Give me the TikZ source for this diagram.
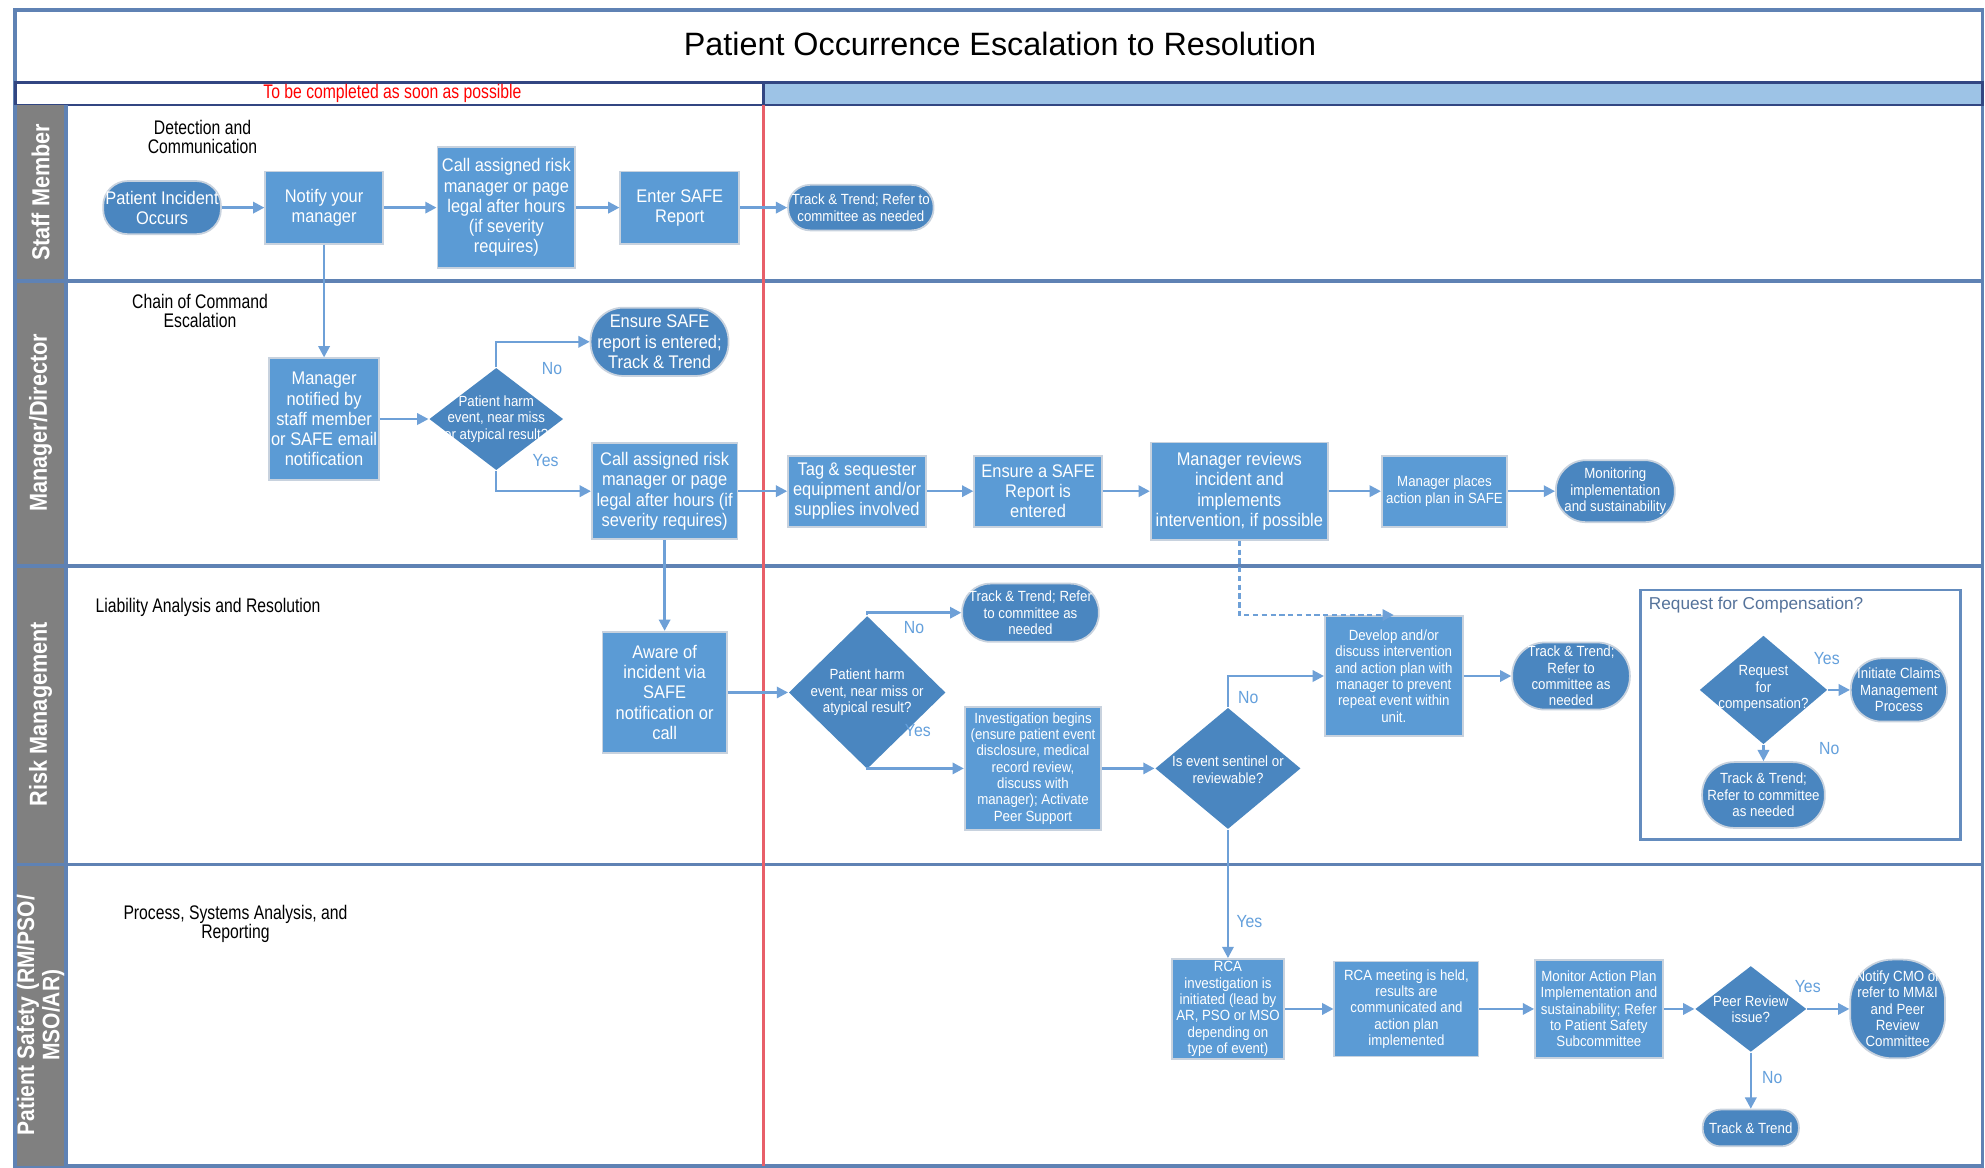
\documentclass[tikz,border=0pt]{standalone}
\usepackage{fontspec}
\setmainfont{Liberation Sans}
\newfontfamily\boxfont{Liberation Sans}[FakeStretch=0.9]
\newfontfamily\narrowfont{Liberation Sans}[FakeStretch=0.8]
\newfontfamily\lanefont{Liberation Sans}[FakeStretch=0.88]
\usetikzlibrary{shapes.geometric,shapes.misc,arrows.meta,calc}
\newlength{\spx}\setlength{\spx}{0.3602pt}
\newcommand\boxbig{\boxfont\fontsize{5.2}{5.75}\selectfont}
\newcommand\boxsmall{\boxfont\fontsize{4.2}{4.65}\selectfont}
\definecolor{rectfill}{RGB}{91,155,213}
\definecolor{darkfill}{RGB}{74,134,192}
\definecolor{rectline}{RGB}{200,210,222}
\definecolor{linecol}{RGB}{110,160,215}
\definecolor{ynblue}{RGB}{100,160,220}
\definecolor{lanecol}{RGB}{95,130,180}
\definecolor{navy}{RGB}{50,70,130}
\definecolor{hdrblue}{RGB}{157,195,230}
\definecolor{lanegray}{RGB}{128,128,128}
\definecolor{redline}{RGB}{232,95,105}
\definecolor{compline}{RGB}{100,140,190}
\definecolor{comptext}{RGB}{85,115,155}
\tikzset{
  rbox/.style={rectangle, draw=rectline, line width=0.5pt, fill=rectfill, text=white, align=center, inner sep=0.5pt, font=\boxbig},
  stad/.style={rectangle, rounded corners=#1, draw=rectline, line width=0.5pt, fill=darkfill, text=white, align=center, inner sep=0.5pt, font=\boxbig},
  dia/.style={diamond, fill=darkfill, draw=none, inner sep=0pt},
  dtext/.style={text=white, align=center, inner sep=0pt, font=\boxsmall},
  conn/.style={draw=linecol, line width=0.7pt, -{Triangle[length=3.2pt,width=3.2pt]}},
  yn/.style={text=ynblue, inner sep=0pt, font=\boxfont\fontsize{5}{5}\selectfont},
  sect/.style={text=black, align=center, inner sep=0pt, font=\narrowfont\fontsize{5.6}{5.4}\selectfont},
  lanelabel/.style={rotate=90, text=white, align=center, inner sep=0pt, font=\lanefont\bfseries\fontsize{7}{7.2}\selectfont},
  laneline/.style={draw=lanecol, line width=1pt},
}
\begin{document}
\begin{tikzpicture}[x=0.01266cm, y=-0.01266cm]
\useasboundingbox (0,0) rectangle (1568,922);
% frame and header
\fill[white] (0,0) rectangle (1568,922);
\draw[laneline] (12,8) rectangle (1566,921);
\node[font=\fontsize{9.2}{11}\selectfont] (title) at (790,35) {Patient Occurrence Escalation to Resolution};
\draw[navy, line width=0.8pt, fill=white] (12,65) rectangle (603,83);
\draw[navy, line width=0.8pt, fill=hdrblue] (603,65) rectangle (1566,83);
\node[text=red, inner sep=0pt, font=\narrowfont\fontsize{5.6}{6}\selectfont] (asap) at (310,74) {To be completed as soon as possible};
% lane label column
\fill[lanegray] (12,83) rectangle (52,921);
\draw[laneline] (52,83) -- (52,921);
\draw[laneline] (12,83) -- (12,921);
\draw[laneline] (12,222) -- (1566,222);
\draw[laneline] (12,447) -- (1566,447);
\draw[laneline] (12,683) -- (1566,683);
\draw[redline, line width=0.8pt] (603,83) -- (603,921);
\node[lanelabel] (lstaff) at (32,152) {Staff Member};
\node[lanelabel] (lmgr) at (32,334) {Manager/Director};
\node[lanelabel] (lrisk) at (32,564) {Risk Management};
\node[lanelabel, font=\lanefont\bfseries\fontsize{6.8}{7.2}\selectfont] (lps) at (32,802) {Patient Safety (RM/PSO/\\MSO/AR)};
% section headings
\node[sect] (h1) at (160,108) {Detection and\\Communication};
\node[sect] (h2) at (158,246) {Chain of Command\\Escalation};
\node[sect, anchor=west] (h3) at (75,480) {Liability Analysis and Resolution};
\node[sect] (h4) at (186,730) {Process, Systems Analysis, and\\Reporting};
% staff lane
\node[stad=7pt, minimum width=93\spx, minimum height=42\spx] (s1) at (128,164) {Patient Incident\\Occurs};
\node[rbox, minimum width=93\spx, minimum height=57\spx] (s2) at (256,164) {Notify your\\manager};
\node[rbox, minimum width=109\spx, minimum height=96\spx] (s3) at (400,164) {Call assigned risk\\manager or page\\legal after hours\\(if severity\\requires)};
\node[rbox, minimum width=94\spx, minimum height=57\spx] (s4) at (537,164) {Enter SAFE\\Report};
\node[stad=6.3pt, minimum width=115\spx, minimum height=36\spx, font=\boxsmall] (s5) at (680,164) {Track \& Trend; Refer to\\committee as needed};
% manager lane
\node[rbox, minimum width=87\spx, minimum height=96\spx] (m1) at (256,331) {Manager\\notified by\\staff member\\or SAFE email\\notification};
\node[dia, minimum width=106\spx, minimum height=81\spx] (m2) at (392,331) {};
\node[dtext] (m2t) at (392,331) {Patient harm\\event, near miss\\or atypical result?};
\node[stad=9.4pt, minimum width=109\spx, minimum height=54\spx] (m3) at (521,270) {Ensure SAFE\\report is entered;\\Track \& Trend};
\node[rbox, minimum width=115\spx, minimum height=76\spx] (m4) at (525,388) {Call assigned risk\\manager or page\\legal after hours (if\\severity requires)};
\node[rbox, minimum width=109\spx, minimum height=56\spx] (m5) at (677,388) {Tag \& sequester\\equipment and/or\\supplies involved};
\node[rbox, minimum width=101\spx, minimum height=56\spx] (m6) at (820,388) {Ensure a SAFE\\Report is\\entered};
\node[rbox, minimum width=140\spx, minimum height=77\spx] (m7) at (979,388) {Manager reviews\\incident and\\implements\\intervention, if possible};
\node[rbox, minimum width=99\spx, minimum height=56\spx, font=\boxsmall] (m8) at (1141,388) {Manager places\\action plan in SAFE};
\node[stad=8.6pt, minimum width=94\spx, minimum height=49\spx, font=\boxsmall] (m9) at (1276,388) {Monitoring\\implementation\\and sustainability};
\node[yn] (ym2no) at (436,291) {No};
\node[yn] (ym2yes) at (431,364) {Yes};
% risk lane
\node[rbox, minimum width=98\spx, minimum height=96\spx] (r1) at (525,547) {Aware of\\incident via\\SAFE\\notification or\\call};
\node[dia, minimum width=124\spx, minimum height=121\spx] (r2) at (685,547) {};
\node[dtext] (r2t) at (685,547) {Patient harm\\event, near miss or\\atypical result?};
\node[stad=8pt, minimum width=108\spx, minimum height=46\spx, font=\boxsmall] (r3) at (814,484) {Track \& Trend; Refer\\to committee as\\needed};
\node[rbox, minimum width=108\spx, minimum height=97\spx, font=\boxsmall] (r4) at (816,607) {Investigation begins\\(ensure patient event\\disclosure, medical\\record review,\\discuss with\\manager); Activate\\Peer Support};
\node[dia, minimum width=115\spx, minimum height=96\spx] (r5) at (970,607) {};
\node[dtext] (r5t) at (970,608) {Is event sentinel or\\reviewable?};
\node[rbox, minimum width=109\spx, minimum height=95\spx, font=\boxsmall] (r6) at (1101,534) {Develop and/or\\discuss intervention\\and action plan with\\manager to prevent\\repeat event within\\unit.};
\node[stad=9.3pt, minimum width=93\spx, minimum height=53\spx, font=\boxsmall] (r7) at (1241,534) {Track \& Trend;\\Refer to\\committee as\\needed};
\node[draw=compline, line width=0.8pt, fill=white, minimum width=253\spx, minimum height=197\spx, inner sep=0pt] (comp) at (1422.5,564.5) {};
\node[anchor=west, text=comptext, inner sep=0pt, font=\fontsize{4.9}{5}\selectfont] (compt) at (1302,478) {Request for Compensation?};
\node[dia, minimum width=101\spx, minimum height=86\spx] (r8) at (1393,545) {};
\node[dtext] (r8t) at (1393,544) {Request\\for\\compensation?};
\node[stad=8.8pt, minimum width=76\spx, minimum height=50\spx, font=\boxsmall] (r9) at (1500,545) {Initiate Claims\\Management\\Process};
\node[stad=9.1pt, minimum width=97\spx, minimum height=52\spx, font=\boxsmall] (r10) at (1393,628) {Track \& Trend;\\Refer to committee\\as needed};
\node[yn] (yr2no) at (722,496) {No};
\node[yn] (yr2yes) at (725,577) {Yes};
\node[yn] (yr5no) at (986,551) {No};
\node[yn] (yr5yes) at (987,728) {Yes};
\node[yn] (yr8yes) at (1443,520) {Yes};
\node[yn] (yr8no) at (1445,591) {No};
% patient safety lane
\node[rbox, minimum width=89\spx, minimum height=79\spx, font=\boxsmall] (p1) at (970,797) {RCA\\investigation is\\initiated (lead by\\AR, PSO or MSO\\depending on\\type of event)};
\node[rbox, minimum width=114\spx, minimum height=75\spx, font=\boxsmall] (p2) at (1111,797) {RCA meeting is held,\\results are\\communicated and\\action plan\\implemented};
\node[rbox, minimum width=101\spx, minimum height=77\spx, font=\boxsmall] (p3) at (1263,797) {Monitor Action Plan\\Implementation and\\sustainability; Refer\\to Patient Safety\\Subcommittee};
\node[dia, minimum width=88\spx, minimum height=68\spx] (p4) at (1383,797) {};
\node[dtext] (p4t) at (1383,797) {Peer Review\\issue?};
\node[stad=12pt, minimum width=75\spx, minimum height=78\spx, font=\boxsmall] (p5) at (1499,797) {Notify CMO or\\refer to MM\&I\\and Peer\\Review\\Committee};
\node[stad=5pt, minimum width=76\spx, minimum height=29\spx, font=\boxsmall] (p6) at (1383,891) {Track \& Trend};
\node[yn] (yp4yes) at (1428,779) {Yes};
\node[yn] (yp4no) at (1400,851) {No};
% connectors
\draw[conn] (s1.east) -- (s2.west);
\draw[conn] (s2.east) -- (s3.west);
\draw[conn] (s3.east) -- (s4.west);
\draw[conn] (s4.east) -- (s5.west);
\draw[conn] (s2.south) -- (m1.north);
\draw[conn] (m1.east) -- (m2.west);
\draw[conn] (m2.north) |- (m3.west);
\draw[conn] (m2.south) |- (m4.west);
\draw[conn] (m4.east) -- (m5.west);
\draw[conn] (m5.east) -- (m6.west);
\draw[conn] (m6.east) -- (m7.west);
\draw[conn] (m7.east) -- (m8.west);
\draw[conn] (m8.east) -- (m9.west);
\draw[conn] (m4.south) -- (r1.north);
\draw[conn, dash pattern=on 1.5pt off 1pt] (m7.south) |- (r6.north);
\draw[conn] (r1.east) -- (r2.west);
\draw[conn] (r2.north) |- (r3.west);
\draw[conn] (r2.south) |- (r4.west);
\draw[conn] (r4.east) -- (r5.west);
\draw[conn] (r5.north) |- (r6.west);
\draw[conn] (r6.east) -- (r7.west);
\draw[conn] (r5.south) -- (p1.north);
\draw[conn] (r8.east) -- (r9.west);
\draw[conn] (r8.south) -- (r10.north);
\draw[conn] (p1.east) -- (p2.west);
\draw[conn] (p2.east) -- (p3.west);
\draw[conn] (p3.east) -- (p4.west);
\draw[conn] (p4.east) -- (p5.west);
\draw[conn] (p4.south) -- (p6.north);
\end{tikzpicture}
\end{document}
